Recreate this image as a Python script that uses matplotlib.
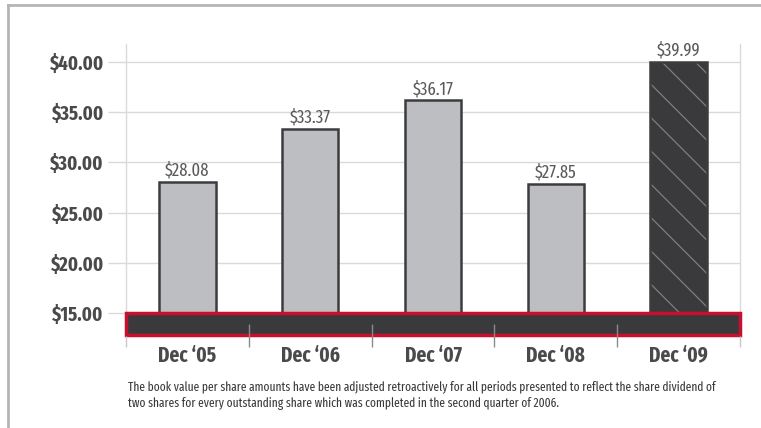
import numpy as np
import matplotlib.pyplot as plt
from matplotlib.lines import Line2D

plt.rcParams['font.family'] = ['Fira Sans Extra Condensed', 'DejaVu Sans']
plt.rcParams['hatch.linewidth'] = 0.9

# data
periods = ["Dec \u201805", "Dec \u201806", "Dec \u201807", "Dec \u201808", "Dec \u201809"]
book_value = [28.08, 33.37, 36.17, 27.85, 39.99]
y_ticks = [15, 20, 25, 30, 35, 40]

txt_dark = '#4a4a4c'
grid_col = '#dadada'
bar_fill = '#bdbec2'
bar_edge = '#3c3c3e'
dark_fill = '#3a3a3c'
band_red = '#c8102e'

fig = plt.figure(figsize=(7.61, 4.28), dpi=100)
ax = fig.add_axes([126 / 761, 93 / 428, 614 / 761, 291 / 428])

x = np.arange(len(periods))
ax.bar(x[:-1], book_value[:-1], width=0.46, color=bar_fill,
       edgecolor=bar_edge, linewidth=1.8, zorder=3)
# last bar: dark with light diagonal hatch
ax.bar(x[-1], book_value[-1], width=0.46, color=dark_fill, edgecolor='#7e7e80',
       linewidth=0, hatch='\\', zorder=3)
ax.bar(x[-1], book_value[-1], width=0.46, color='none', edgecolor=bar_edge,
       linewidth=1.8, zorder=3)

for xi, v in zip(x, book_value):
    ax.text(xi, v + 0.25, f"${v:.2f}", ha='center', va='bottom', fontsize=13,
            fontweight='normal', color='#5a5a5c', zorder=5)

ax.set_xlim(-0.5, 4.5)
ax.set_ylim(12.8, 41.8)

# dark band with red border under the $15 line
ax.axhspan(12.8, 15, facecolor=dark_fill, edgecolor=band_red, linewidth=2.5,
           zorder=4, clip_on=False)

# category separators
ax.vlines(np.arange(0.5, 4, 1), 11.6, 13.9, color='#8a8a8c', linewidth=1,
          zorder=6, clip_on=False)
ax.vlines([-0.5, 4.5], 11.6, 12.7, color='#c8c8c8', linewidth=1,
          zorder=6, clip_on=False)

ax.set_yticks(y_ticks)
ax.set_yticklabels([f"${t:.2f}" for t in y_ticks], fontsize=14.5,
                   fontweight='bold', color=txt_dark)
ax.tick_params(axis='y', length=13, width=1, color=grid_col, pad=3)
ax.yaxis.grid(True, color=grid_col, linewidth=1)
ax.set_axisbelow(True)

ax.set_xticks(x)
ax.set_xticklabels(periods, fontsize=15, fontweight='bold', color=txt_dark)
ax.tick_params(axis='x', which='major', length=0, pad=7)

for s in ['top', 'bottom']:
    ax.spines[s].set_visible(False)
for s in ['left', 'right']:
    ax.spines[s].set_color(grid_col)
    ax.spines[s].set_linewidth(1)

# outer frame
fig.add_artist(Line2D([8 / 761, 1], [1 - 5 / 428, 1 - 5 / 428], color='#b5b5b5', linewidth=2))
fig.add_artist(Line2D([8 / 761, 8 / 761], [0, 1 - 5 / 428], color='#b5b5b5', linewidth=2))

note = ("The book value per share amounts have been adjusted retroactively for all periods presented to reflect the share dividend of\n"
        "two shares for every outstanding share which was completed in the second quarter of 2006.")
fig.text(128 / 761, 1 - 380 / 428, note, fontsize=9, color='#3a3a3a',
         va='top', ha='left', linespacing=1.45)

fig.savefig('out.png', dpi=100, facecolor='white')
